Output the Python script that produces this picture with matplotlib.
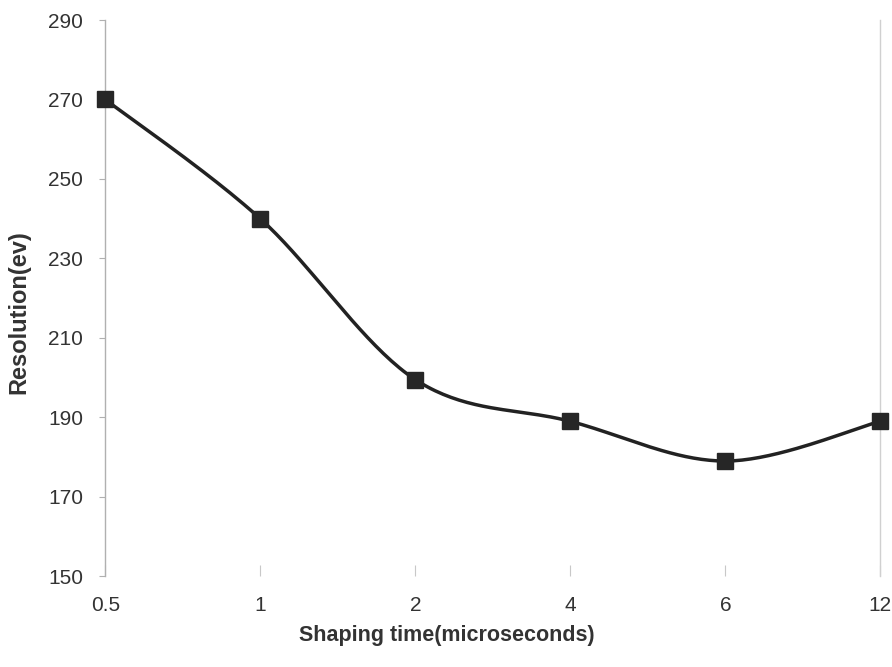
import numpy as np
import matplotlib.pyplot as plt

plt.rcParams['font.family'] = ['Liberation Sans', 'DejaVu Sans']

# data
shaping_labels = ['0.5', '1', '2', '4', '6', '12']
resolution = [270, 240, 199.5, 189, 179, 189]
yticks = [150, 170, 190, 210, 230, 250, 270, 290]


def smooth_line(x, y, steps=40):
    """Excel-like smoothed line (cardinal spline through the points)"""
    x = np.asarray(x, float)
    y = np.asarray(y, float)
    px = np.concatenate([[x[0]], x, [x[-1]]])
    py = np.concatenate([[y[0]], y, [y[-1]]])
    xs, ys = [], []
    t = np.linspace(0, 1, steps)
    for i in range(1, len(px) - 2):
        p0 = np.array([px[i], py[i]])
        p3 = np.array([px[i + 1], py[i + 1]])
        p1 = p0 + (np.array([px[i + 1], py[i + 1]]) - np.array([px[i - 1], py[i - 1]])) / 6
        p2 = p3 - (np.array([px[i + 2], py[i + 2]]) - np.array([px[i], py[i]])) / 6
        b = ((1 - t) ** 3)[:, None] * p0 + (3 * (1 - t) ** 2 * t)[:, None] * p1 \
            + (3 * (1 - t) * t ** 2)[:, None] * p2 + (t ** 3)[:, None] * p3
        xs.extend(b[:, 0])
        ys.extend(b[:, 1])
    return np.array(xs), np.array(ys)


fig = plt.figure(figsize=(8.92, 6.67), dpi=100)
ax = fig.add_axes([0.118, 0.136, 0.869, 0.834])

xpos = np.arange(len(shaping_labels))
sx, sy = smooth_line(xpos, resolution)
ax.plot(sx, sy, color='#222222', lw=2.5, solid_capstyle='round', zorder=2,
        clip_on=False)
ax.plot(xpos, resolution, ls='none', marker='s', ms=12, color='#262626',
        zorder=3, clip_on=False)

ax.set_xlim(0, len(shaping_labels) - 1)
ax.set_ylim(150, 290)
ax.set_yticks(yticks)
ax.set_xticks(xpos)
ax.set_xticklabels(shaping_labels)

for side in ['top', 'bottom']:
    ax.spines[side].set_visible(False)
ax.spines['left'].set_color('#b0b0b0')
ax.spines['right'].set_color('#d0d0d0')
ax.spines['left'].set_linewidth(1.0)
ax.spines['right'].set_linewidth(1.0)

ax.tick_params(axis='y', direction='out', length=4, color='#b0b0b0',
               labelsize=15, labelcolor='#333333', pad=12)
ax.tick_params(axis='x', direction='in', length=8, color='#c8c8c8',
               labelsize=15, labelcolor='#333333', pad=14)

ax.set_xlabel('Shaping time(microseconds)', fontsize=15.5, fontweight='bold',
              color='#333333')
ax.set_ylabel('Resolution(ev)', fontsize=17, fontweight='bold',
              color='#333333')
# the scanned labels sit a little off-centre
ax.xaxis.set_label_coords(0.441, -0.088)
ax.yaxis.set_label_coords(-0.097, 0.475)

fig.savefig('out.png', dpi=100)
